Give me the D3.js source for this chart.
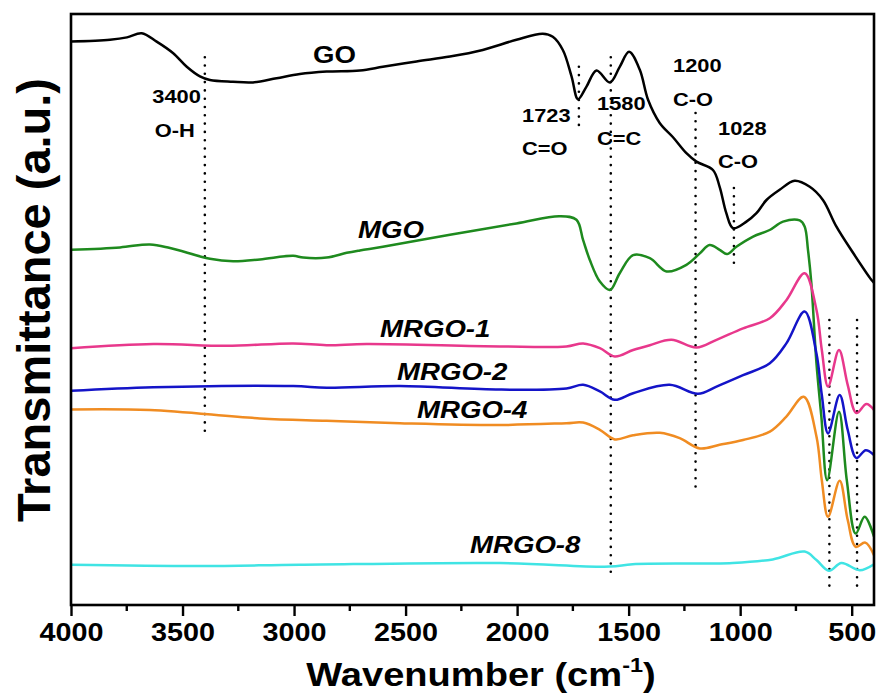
<!DOCTYPE html>
<html>
<head>
<meta charset="utf-8">
<script src="https://cdn.jsdelivr.net/npm/d3@7/dist/d3.min.js"></script>
<style>
  html, body { margin: 0; padding: 0; background: #fff; }
  svg { display: block; }
  text { font-family: "Liberation Sans", Arial, sans-serif; fill: #000; }
</style>
</head>
<body>
<svg id="chart" width="879" height="700"></svg>
<script>
// FTIR spectra: wavenumber (cm-1) and transmittance (a.u., curves offset for clarity)
const wnGO = [4000, 3825, 3749, 3683, 3616, 3543, 3481, 3422, 3377, 3274, 3184, 3078, 2974, 2854, 2705, 2602, 2451, 2301, 2154, 2003, 1885, 1840, 1795, 1756, 1727, 1689, 1644, 1584, 1540, 1498, 1450, 1413, 1360, 1302, 1241, 1196, 1122, 1092, 1062, 1032, 972, 927, 882, 823, 756, 688, 629, 569, 494, 412, 400];
const tGO  = [93.9, 94.2, 94.6, 95.3, 93.9, 92.0, 89.7, 88.1, 87.5, 87.2, 87.1, 87.8, 88.5, 88.9, 89.1, 89.7, 90.6, 91.4, 92.5, 94.2, 95.2, 94.7, 92.5, 88.1, 84.3, 86.4, 89.1, 87.1, 89.7, 92.2, 89.2, 84.2, 80.3, 78.0, 75.3, 73.9, 72.5, 69.7, 65.3, 62.8, 63.9, 65.3, 67.5, 69.2, 70.7, 69.7, 67.5, 63.1, 58.7, 54.2, 53.7];

const wnMGO = [4000, 3780, 3646, 3556, 3377, 3273, 3153, 3004, 2959, 2854, 2764, 2705, 2602, 2301, 2003, 1809, 1734, 1704, 1674, 1629, 1584, 1540, 1480, 1405, 1330, 1241, 1181, 1137, 1092, 1059, 1017, 942, 868, 808, 733, 711, 696, 681, 658, 636, 610, 557, 522, 482, 442, 400];
const tMGO  = [59.2, 59.6, 60.1, 59.5, 57.7, 57.3, 57.6, 58.2, 57.9, 57.9, 58.7, 59.1, 59.7, 61.7, 63.6, 64.8, 64.2, 60.8, 57.5, 53.9, 52.5, 55.3, 58.3, 57.8, 55.6, 56.7, 58.6, 60.0, 59.2, 58.5, 59.7, 61.4, 62.5, 63.9, 64.1, 63.1, 59.2, 53.7, 40.3, 31.4, 20.8, 32.2, 20.8, 11.9, 14.7, 11.4];

const wnMRGO1 = [4000, 3631, 3302, 3004, 2854, 2675, 2077, 1779, 1704, 1629, 1562, 1480, 1405, 1308, 1196, 1106, 987, 867, 793, 711, 658, 634, 606, 557, 518, 479, 434, 400];
const tMRGO1  = [42.8, 43.5, 43.2, 43.6, 43.3, 43.5, 43.1, 43.1, 43.6, 42.8, 41.4, 42.5, 43.3, 44.2, 42.9, 44.2, 46.1, 47.8, 50.8, 55.3, 49.2, 42.5, 36.4, 42.5, 36.7, 32.0, 33.5, 32.5];

const wnMRGO2 = [4000, 3631, 3004, 2854, 2526, 2077, 1779, 1704, 1629, 1562, 1480, 1316, 1189, 1106, 987, 867, 793, 711, 658, 634, 606, 554, 518, 479, 437, 400];
const tMRGO2  = [35.7, 36.3, 36.5, 36.2, 36.5, 35.9, 36.1, 36.7, 35.6, 34.2, 35.3, 36.7, 35.2, 36.4, 38.3, 40.3, 43.6, 48.9, 41.9, 35.0, 28.6, 35.0, 29.2, 24.5, 25.8, 25.0];

const wnMRGO4 = [4000, 3646, 3153, 2854, 2526, 2077, 1779, 1704, 1629, 1562, 1480, 1360, 1271, 1181, 1092, 987, 867, 793, 715, 658, 634, 606, 554, 518, 482, 439, 400];
const tMRGO4  = [32.6, 32.5, 31.1, 30.7, 30.3, 30.0, 30.3, 30.4, 29.2, 27.6, 28.3, 28.7, 27.8, 26.1, 26.7, 27.5, 28.9, 31.4, 34.7, 28.1, 20.8, 14.7, 20.7, 14.2, 9.7, 10.4, 8.3];

const wnMRGO8 = [4000, 3422, 2974, 2077, 1584, 1482, 1033, 854, 711, 658, 602, 546, 464, 400];
const tMRGO8  = [6.7, 6.5, 6.7, 7.0, 6.4, 6.8, 7.0, 7.6, 8.9, 7.5, 5.7, 7.0, 5.8, 6.8];

const seriesNames = ["GO", "MGO", "MRGO-1", "MRGO-2", "MRGO-4", "MRGO-8"];
const seriesColors = ["#000000", "#1e8a1e", "#e8388c", "#1414c8", "#f08c22", "#40e4e4"];

// Band assignments marked with dotted guides
const bandWn     = [3400, 1723, 1580, 1200, 1028, 600, 476];
const bandTop    = [91.3, 89.7, 91.3, 82.0, 69.5, 47.5, 47.5];
const bandBottom = [28.0, 79.2, 4.2, 19.2, 57.0, 2.8, 2.8];

const xTicks = [4000, 3500, 3000, 2500, 2000, 1500, 1000, 500];
const xMinorTicks = [3750, 3250, 2750, 2250, 1750, 1250, 750];

(function draw() {
  const svg = d3.select("#chart");
  const pLeft = 71, pRight = 874, pTop = 14, pBottom = 605;

  const x = d3.scaleLinear().domain([4000, 400]).range([pLeft, pRight]);
  const y = d3.scaleLinear().domain([0, 98.5]).range([pBottom, pTop]);

  const SX = 1.15; // horizontal stretch applied to the figure lettering

  function label(parent, px, py, s, opts) {
    const o = Object.assign({ size: 19, italic: false, anchor: "start", sx: SX }, opts || {});
    return parent.append("text")
      .attr("transform", `translate(${px},${py}) scale(${o.sx},1)`)
      .attr("text-anchor", o.anchor)
      .attr("font-size", o.size)
      .attr("font-weight", "bold")
      .attr("font-style", o.italic ? "italic" : "normal")
      .text(s);
  }

  svg.append("defs").append("clipPath").attr("id", "plot-clip")
    .append("rect").attr("x", pLeft).attr("y", pTop)
    .attr("width", pRight - pLeft).attr("height", pBottom - pTop);

  // dotted band guides
  svg.append("g").selectAll("line")
    .data(bandWn)
    .join("line")
    .attr("x1", d => x(d)).attr("x2", d => x(d))
    .attr("y1", (d, i) => y(bandTop[i]))
    .attr("y2", (d, i) => y(bandBottom[i]))
    .attr("stroke", "#000")
    .attr("stroke-width", 2.6)
    .attr("stroke-linecap", "round")
    .attr("stroke-dasharray", "0 8.3");

  // spectra
  const seriesData = [
    [wnGO, tGO], [wnMGO, tMGO], [wnMRGO1, tMRGO1],
    [wnMRGO2, tMRGO2], [wnMRGO4, tMRGO4], [wnMRGO8, tMRGO8]
  ];
  const line = d3.line()
    .x(d => x(d[0]))
    .y(d => y(d[1]))
    .curve(d3.curveCatmullRom.alpha(0.5));

  svg.append("g").attr("clip-path", "url(#plot-clip)")
    .selectAll("path")
    .data(seriesData)
    .join("path")
    .attr("d", ([wn, t]) => line(wn.map((w, i) => [w, t[i]])))
    .attr("fill", "none")
    .attr("stroke", (d, i) => seriesColors[i])
    .attr("stroke-width", 2.5)
    .attr("stroke-linejoin", "round");

  // frame
  svg.append("rect")
    .attr("x", pLeft).attr("y", pTop)
    .attr("width", pRight - pLeft).attr("height", pBottom - pTop)
    .attr("fill", "none").attr("stroke", "#000").attr("stroke-width", 2.6);

  // bottom axis: major and minor ticks pointing outward
  const axisG = svg.append("g").attr("transform", `translate(0,${pBottom})`);
  axisG.call(d3.axisBottom(x).tickValues(xTicks).tickSize(11).tickFormat(d3.format("d")));
  axisG.select(".domain").remove();
  axisG.selectAll(".tick line").attr("stroke", "#000").attr("stroke-width", 2.4);
  axisG.selectAll(".tick text")
    .attr("y", 36).attr("dy", 0)
    .attr("font-size", 25)
    .attr("font-weight", "bold")
    .attr("font-family", "'Liberation Sans', Arial, sans-serif")
    .attr("fill", "#000")
    .attr("transform", `scale(${SX},1)`);

  axisG.selectAll(".minor")
    .data(xMinorTicks)
    .join("line")
    .attr("class", "minor")
    .attr("x1", d => x(d)).attr("x2", d => x(d))
    .attr("y1", 0).attr("y2", 6)
    .attr("stroke", "#000").attr("stroke-width", 2.4);

  // axis titles
  const xt = svg.append("text")
    .attr("transform", `translate(481,686) scale(1.12,1)`)
    .attr("text-anchor", "middle")
    .attr("font-size", 34)
    .attr("font-weight", "bold");
  xt.append("tspan").text("Wavenumber (cm");
  xt.append("tspan").attr("font-size", 21).attr("dy", -14).text("-1");
  xt.append("tspan").attr("dy", 14).text(")");

  svg.append("text")
    .attr("transform", "translate(50,300) rotate(-90)")
    .attr("text-anchor", "middle")
    .attr("font-size", 47)
    .attr("font-weight", "bold")
    .text("Transmittance (a.u.)");

  // series names
  const names = svg.append("g");
  label(names, 313, 63, seriesNames[0], { size: 24 });
  label(names, 358, 238, seriesNames[1], { size: 24, italic: true });
  label(names, 380, 337, seriesNames[2], { size: 24, italic: true });
  label(names, 397, 380, seriesNames[3], { size: 24, italic: true });
  label(names, 417, 418, seriesNames[4], { size: 24, italic: true });
  label(names, 470, 553, seriesNames[5], { size: 24, italic: true });

  // band annotations
  const ann = svg.append("g");
  label(ann, x(bandWn[0]) - 4, 103, "3400", { anchor: "end" });
  label(ann, x(bandWn[0]) - 4 - 46, 137, "O-H");
  label(ann, 522, 122, "1723");
  label(ann, 522, 155, "C=O");
  label(ann, 597, 110, "1580");
  label(ann, 597, 145, "C=C");
  label(ann, 673, 72, "1200");
  label(ann, 673, 106, "C-O");
  label(ann, 718, 135, "1028");
  label(ann, 718, 168, "C-O");
})();
</script>
</body>
</html>
